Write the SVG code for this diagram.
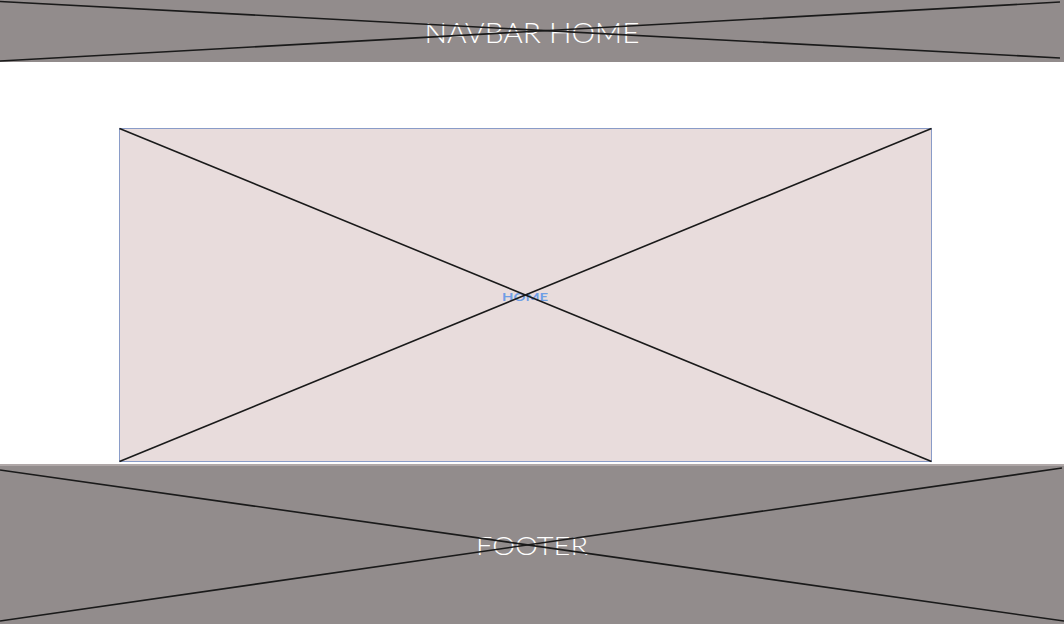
<svg xmlns="http://www.w3.org/2000/svg" width="1064" height="624" viewBox="0 0 1064 624">
<style>
.bar{fill:#928c8c}
.x{stroke:#1a1a1a;stroke-width:1.6;fill:none}
.lbl{font-family:Lato,"Open Sans",sans-serif;font-weight:300;fill:#ffffff;text-anchor:middle}
.img{font-family:Lato,"Open Sans",sans-serif;font-weight:700;fill:#6f9ee6;text-anchor:middle;font-size:11px}
</style>
<rect width="1064" height="624" fill="#ffffff"/>
<g id="navbar">
<rect class="bar" x="0" y="0" width="1064" height="62"/>
<text class="lbl" x="532" y="43" font-size="28" textLength="215" lengthAdjust="spacingAndGlyphs">NAVBAR HOME</text>
</g>
<g id="image">
<rect x="119.5" y="128.5" width="812" height="333" fill="#e8dcdc" stroke="#8a9cc8" stroke-width="1"/>
<text class="img" x="525" y="301" textLength="46" lengthAdjust="spacingAndGlyphs">HOME</text>
</g>
<g id="footer">
<rect x="0" y="465" width="1064" height="159" fill="#928c8c"/>
<rect x="0" y="464" width="1064" height="2" fill="#b0a8a8"/>
<text class="lbl" x="532" y="555" font-size="26" textLength="112" lengthAdjust="spacingAndGlyphs">FOOTER</text>
</g>
<g id="connectors">
<line class="x" x1="0" y1="1.5" x2="1060" y2="58"/>
<line class="x" x1="0" y1="61" x2="1060" y2="2"/>
<line class="x" x1="119.5" y1="128.5" x2="931.5" y2="461.5"/>
<line class="x" x1="119.5" y1="461.5" x2="931.5" y2="128.5"/>
<line class="x" x1="0" y1="470" x2="1064" y2="621"/>
<line class="x" x1="0" y1="621" x2="1062" y2="468"/>
</g>
</svg>
